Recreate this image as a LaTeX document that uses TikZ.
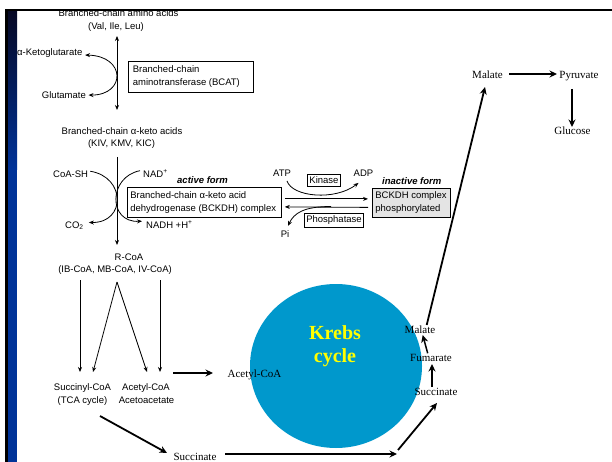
\documentclass[tikz,border=0pt]{standalone}
\usepackage{fontspec}
\setmainfont{Liberation Serif}
\newfontfamily\arialish{Liberation Sans}
\usetikzlibrary{arrows.meta,calc,shapes.geometric}

\definecolor{krebsblue}{RGB}{0,152,204}
\definecolor{krebsyellow}{RGB}{255,255,0}
\definecolor{barblue}{RGB}{0,51,153}
\definecolor{barnavy}{RGB}{6,8,36}
\definecolor{inactivegray}{RGB}{228,228,228}

\tikzset{
  sanstxt/.style={font=\arialish\fontsize{9.5}{12.5}\selectfont, inner sep=0pt, anchor=base},
  serftxt/.style={font=\fontsize{11}{13}\selectfont, inner sep=0pt, anchor=base},
  formlbl/.style={font=\arialish\bfseries\itshape\fontsize{9.5}{12}\selectfont, inner sep=0pt, anchor=base west},
  enzbox/.style={draw, line width=0.8pt, align=flush left, font=\arialish\fontsize{9.5}{13}\selectfont,
                 inner ysep=2pt, anchor=north west},
  smallbox/.style={draw, line width=0.8pt, font=\arialish\fontsize{9.5}{12}\selectfont,
                   inner xsep=2pt, inner ysep=2.5pt, anchor=base},
  thintip/.style={-{Stealth[length=5pt,width=4pt]}},
  thinarr/.style={line width=0.8pt, thintip},
  thinline/.style={line width=0.8pt},
  thickarr/.style={line width=1.8pt, -{Stealth[length=7.5pt,width=7pt]}},
}

\begin{document}
\begin{tikzpicture}[x=1pt,y=-1pt]
\useasboundingbox (0,0) rectangle (612,462);
\fill[white] (0,0) rectangle (612,462);

% ---------- amino acid transamination ----------
\node[sanstxt] (aa1) at (118.5,17) {Branched-chain amino acids};
\node[sanstxt] (aa2) at (116,30) {(Val, Ile, Leu)};
\node[sanstxt, anchor=base west] (akg) at (17,56) {α-Ketoglutarate};
\node[sanstxt, anchor=base east] (glu) at (86,98.5) {Glutamate};
\node[enzbox, inner xsep=4.5pt, text width=116pt, minimum height=31pt] (bcat) at (128,61)
  {Branched-chain\\aminotransferase (BCAT)};

\coordinate (v1top) at (117,36);
\coordinate (v1bot) at (117,110);
\draw[thinline, {Stealth[length=5pt,width=4pt]}-{Stealth[length=5pt,width=4pt]}] (v1top) -- (v1bot);
\draw[thinline, {Stealth[length=5pt,width=4pt]}-{Stealth[length=5pt,width=4pt]}]
  ($(akg.east)+(2.5,1.5)$) .. controls (126,56) and (126,95) .. ($(glu.east)+(2.5,0)$);

% ---------- oxidative decarboxylation ----------
\node[sanstxt] (ka1) at (122,134.5) {Branched-chain α-keto acids};
\node[sanstxt] (ka2) at (121.5,146.5) {(KIV, KMV, KIC)};
\node[sanstxt, anchor=base west] (coash) at (53,177.5) {CoA-SH};
\node[sanstxt, anchor=base west] (nad) at (143,177.5) {NAD\textsuperscript{+}};
\node[sanstxt, anchor=base west] (co2) at (65,228) {CO\textsubscript{2}};
\node[sanstxt, anchor=base west] (nadh) at (146,228) {NADH +H\textsuperscript{+}};
\node[formlbl] (active) at (177,183.3) {active form};
\node[enzbox, inner xsep=3pt, text width=148pt, minimum height=30pt] (bckdh) at (127,187)
  {Branched-chain α-keto acid\\dehydrogenase (BCKDH) complex};

\coordinate (v2top) at (117,157);
\coordinate (v2bot) at (117,245);
\draw[thinarr] (v2top) -- (v2bot);
\draw[thinarr] ($(coash.east)+(2,-3)$) .. controls (126,177) and (126,223) .. ($(co2.east)+(5,-3)$);
\draw[thinarr] ($(nad.west)+(-3,-3)$) .. controls (108,177) and (108,223) .. ($(nadh.west)+(-4,-3)$);

% ---------- kinase / phosphatase regulation ----------
\node[sanstxt] (atp) at (282,176.7) {ATP};
\node[smallbox] (kinase) at (324,184) {Kinase};
\node[sanstxt] (adp) at (363.5,176.7) {ADP};
\node[formlbl] (inactive) at (382,184.3) {inactive form};
\node[enzbox, fill=inactivegray, inner xsep=3pt, text width=72pt, minimum height=29pt] (pbox) at (372,188)
  {BCKDH complex\\phosphorylated};
\node[smallbox] (phos) at (334,222.7) {Phosphatase};
\node[sanstxt] (pi) at (285,237) {Pi};

\draw[thinarr] ($(bckdh.east)+(3,-3.5)$) -- ($(pbox.west)+(-4,-4)$);
\draw[thinarr] ($(pbox.west)+(-4,4.5)$) -- ($(bckdh.east)+(3,4.5)$);
\draw[thinarr] ($(atp.south)+(5,4)$) .. controls (292,197) and (335,201) .. ($(adp.south)+(-5,6)$);
\draw[thinarr] (331,206.5) .. controls (304,206.5) and (294,213) .. ($(pi.north)+(3,-4)$);

% ---------- acyl-CoA products ----------
\node[sanstxt] (rcoa1) at (129,260) {R-CoA};
\node[sanstxt] (rcoa2) at (115,272.7) {(IB-CoA, MB-CoA, IV-CoA)};
\node[sanstxt] (scoa1) at (82.5,390) {Succinyl-CoA};
\node[sanstxt] (scoa2) at (82.5,403.3) {(TCA cycle)};
\node[sanstxt] (acoa1) at (146,390) {Acetyl-CoA};
\node[sanstxt] (acoa2) at (146.5,403.3) {Acetoacetate};

\coordinate (apex) at (117,282);
\coordinate (la) at (80,280);   \coordinate (lb) at (80,372);
\coordinate (ra) at (160,280);  \coordinate (rb) at (160,372);
\coordinate (vl) at (93,372);   \coordinate (vr) at (147,372);
\draw[thinarr] (la) -- (lb);
\draw[thinarr] (ra) -- (rb);
\draw[thinarr] (apex) -- (vl);
\draw[thinarr] (apex) -- (vr);

% ---------- Krebs cycle ----------
\node[ellipse, fill=krebsblue, minimum width=172pt, minimum height=164pt, inner sep=0pt] (krebs) at (336,366) {};
\node[font=\bfseries\fontsize{20}{23.5}\selectfont, text=krebsyellow, align=center, inner sep=0pt, anchor=base]
  (krebstxt) at (335,362.7) {Krebs\\cycle};

\node[serftxt] (acoa3) at (254.5,377) {Acetyl-CoA};
\node[serftxt] (succ1) at (195,460.5) {Succinate};
\node[serftxt] (suc2) at (436,395.7) {Succinate};
\node[serftxt] (fum) at (431,361.7) {Fumarate};
\node[serftxt] (mal2) at (420,333.3) {Malate};
\node[serftxt] (mal1) at (487.5,78.3) {Malate};
\node[serftxt] (pyr) at (579,78.3) {Pyruvate};
\node[serftxt] (gluc) at (572.5,135) {Glucose};

\coordinate (acA) at (173,373);  \coordinate (acB) at (213,373);
\coordinate (dgA) at (100,416);  \coordinate (dgB) at (167,453);
\coordinate (hzA) at (225,454);  \coordinate (hzB) at (397,454);
\coordinate (d2A) at (398,450);  \coordinate (d2B) at (437,403);
\coordinate (sfA) at (432,387);  \coordinate (sfB) at (432,364);
\coordinate (fmA) at (427.7,353.3); \coordinate (fmB) at (422.7,335);
\coordinate (lgA) at (426.7,325); \coordinate (lgB) at (485,87);
\coordinate (mpA) at (509,74);   \coordinate (mpB) at (557,74);
\coordinate (pgA) at (572,89);   \coordinate (pgB) at (572,127);

\draw[thickarr, line width=1.5pt] (acA) -- (acB);
\draw[thickarr] (dgA) -- (dgB);
\draw[thickarr] (hzA) -- (hzB);
\draw[thickarr] (d2A) -- (d2B);
\draw[thickarr, line width=1.5pt] (sfA) -- (sfB);
\draw[thickarr, line width=1.5pt] (fmA) -- (fmB);
\draw[thickarr] (lgA) -- (lgB);
\draw[thickarr] (mpA) -- (mpB);
\draw[thickarr] (pgA) -- (pgB);

% ---------- slide frame ----------
\fill[white] (0,0) rectangle (612,9);
\fill[black] (5,9) rectangle (612,11.5);
\fill[black] (5,9) rectangle (8,462);
\shade[top color=barnavy, bottom color=barblue] (8,11.5) rectangle (17,170);
\fill[barblue] (8,169.5) rectangle (17,462);
\end{tikzpicture}
\end{document}
